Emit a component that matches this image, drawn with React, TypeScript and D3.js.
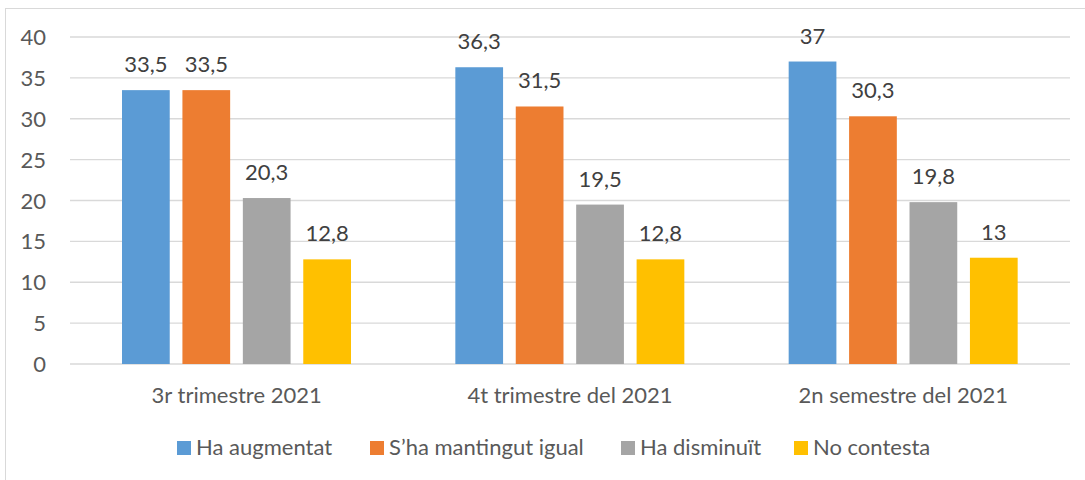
import React, { useEffect, useRef } from 'react';
import * as d3 from 'd3';

const categories = ['3r trimestre 2021', '4t trimestre del 2021', '2n semestre del 2021'];
const seriesNames = ['Ha augmentat', "S’ha mantingut igual", 'Ha disminuït', 'No contesta'];
const augmentat = [33.5, 36.3, 37];
const igual = [33.5, 31.5, 30.3];
const disminuit = [20.3, 19.5, 19.8];
const noContesta = [12.8, 12.8, 13];
const colors = ['#5b9bd5', '#ed7d31', '#a5a5a5', '#ffc000'];
const yTicks = [0, 5, 10, 15, 20, 25, 30, 35, 40];
const legendX = [177, 370, 621, 794];

const width = 1085;
const height = 480;
const font = 'Lato, "Open Sans", sans-serif';
const fs = 22;

export default function App() {
  const ref = useRef<SVGSVGElement>(null);

  useEffect(() => {
    const svg = d3.select(ref.current);
    svg.selectAll('*').remove();

    const series = [augmentat, igual, disminuit, noContesta];

    const x = d3.scaleBand().domain(categories).range([70, 1070]).paddingInner(0).paddingOuter(0);
    const inner = d3.scaleBand().domain(seriesNames).range([52, 52 + 229]).paddingInner(0.21);
    const y = d3.scaleLinear().domain([0, 40]).range([364, 37]);

    // chart border
    svg.append('rect')
      .attr('x', 5.5).attr('y', 8.5)
      .attr('width', 1090).attr('height', 480)
      .attr('fill', 'white')
      .attr('stroke', '#d9d9d9');

    // gridlines
    svg.selectAll('line.grid')
      .data(yTicks)
      .enter()
      .append('line')
      .attr('x1', 70).attr('x2', 1070)
      .attr('y1', d => y(d)).attr('y2', d => y(d))
      .attr('stroke', '#d9d9d9')
      .attr('stroke-width', 1.3);

    svg.selectAll('text.ytick')
      .data(yTicks)
      .enter()
      .append('text')
      .attr('x', 46)
      .attr('y', d => y(d) + 8)
      .attr('text-anchor', 'end')
      .attr('font-family', font)
      .attr('font-size', fs)
      .attr('fill', '#595959')
      .text(d => d);

    const rows = categories.map((c, i) => ({ c, values: series.map((s, j) => ({ name: seriesNames[j], v: s[i], j })) }));

    const g = svg.selectAll('g.cat')
      .data(rows)
      .enter()
      .append('g')
      .attr('transform', d => 'translate(' + x(d.c) + ',0)');

    g.selectAll('rect')
      .data(d => d.values)
      .enter()
      .append('rect')
      .attr('x', d => inner(d.name))
      .attr('width', inner.bandwidth())
      .attr('y', d => y(d.v))
      .attr('height', d => y(0) - y(d.v))
      .attr('fill', d => colors[d.j]);

    g.selectAll('text')
      .data(d => d.values)
      .enter()
      .append('text')
      .attr('x', d => inner(d.name) + inner.bandwidth() / 2)
      .attr('y', d => y(d.v) - 18)
      .attr('text-anchor', 'middle')
      .attr('font-family', font)
      .attr('font-size', fs)
      .attr('fill', '#404040')
      .text(d => String(d.v).replace('.', ','));

    svg.selectAll('text.cat')
      .data(categories)
      .enter()
      .append('text')
      .attr('x', d => x(d) + x.bandwidth() / 2)
      .attr('y', 403)
      .attr('text-anchor', 'middle')
      .attr('font-family', font)
      .attr('font-size', fs)
      .attr('fill', '#595959')
      .text(d => d);

    const lg = svg.selectAll('g.legend')
      .data(seriesNames)
      .enter()
      .append('g')
      .attr('transform', (d, i) => 'translate(' + legendX[i] + ',441)');

    lg.append('rect')
      .attr('width', 14).attr('height', 14)
      .attr('fill', (d, i) => colors[i]);

    lg.append('text')
      .attr('x', 19)
      .attr('y', 14)
      .attr('font-family', font)
      .attr('font-size', fs)
      .attr('fill', '#595959')
      .text(d => d);
  }, []);

  return (
    <div style={{ position: 'absolute', left: 0, top: 0 }}>
      <svg ref={ref} width={width} height={height} style={{ display: 'block', background: 'white' }} />
    </div>
  );
}
